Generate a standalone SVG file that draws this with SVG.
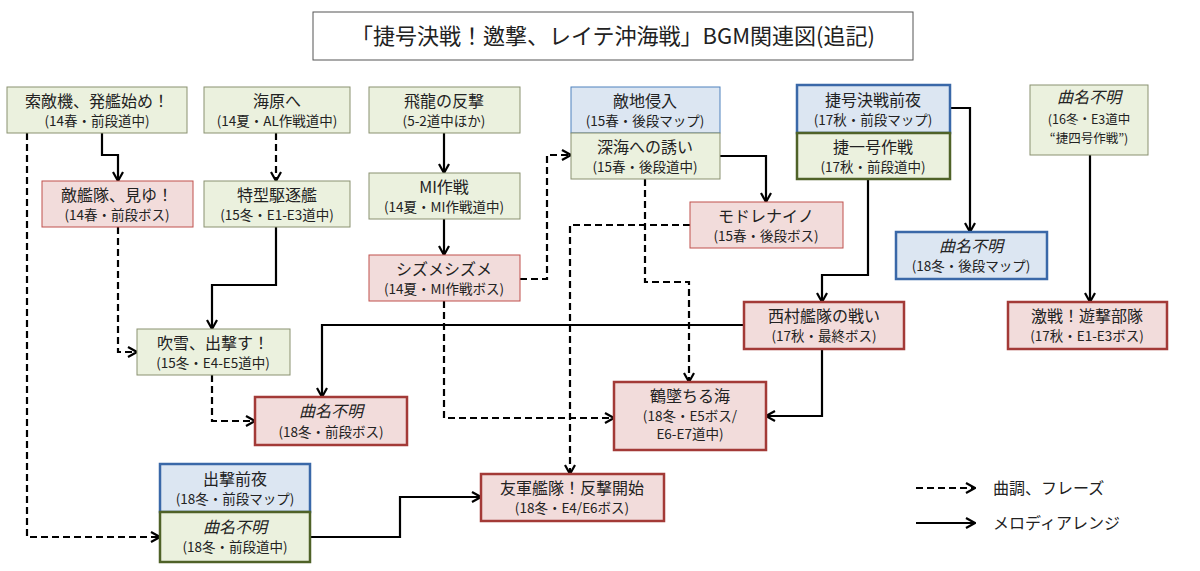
<svg xmlns="http://www.w3.org/2000/svg" width="1200" height="571" viewBox="0 0 1200 571">
<defs>
<marker id="ah" viewBox="0 0 12 12" refX="11" refY="6" markerWidth="12" markerHeight="12" markerUnits="userSpaceOnUse" orient="auto">
<polyline points="2,1 11,6 2,11" fill="none" stroke="#000" stroke-width="2.2"/>
</marker>
<style>
text{font-family:"Noto Sans CJK JP","Liberation Sans",sans-serif;fill:#222;text-anchor:middle}
.t{font-size:16px}.s{font-size:13.5px}.i{font-style:italic}.x{font-size:12.5px}
.g{fill:#ebf1de;stroke:#8a9170;stroke-width:1}
.p{fill:#f2dcdb;stroke:#c0504d;stroke-width:1}
.b{fill:#dce6f2;stroke:#4f81bd;stroke-width:1}
.P{fill:#f2dcdb;stroke:#a33a37;stroke-width:2.5}
.B{fill:#dce6f2;stroke:#3a68a8;stroke-width:2.5}
.G{fill:#ebf1de;stroke:#4f6228;stroke-width:2.5}
.c{fill:none;stroke:#000;stroke-width:2.2;marker-end:url(#ah)}
.d{stroke-dasharray:7,4}
</style>
</defs>
<rect width="1200" height="571" fill="#fff"/>
<g id="title"><rect x="313" y="12" width="600" height="48" fill="#fff" stroke="#555"/><text x="613" y="44" style="font-size:22px">「捷号決戦！邀撃、レイテ沖海戦」BGM関連図(追記)</text></g>
<g id="connectors">
<polyline class="c d" points="27,133 27,537 160,537"/>
<polyline class="c" points="102,133 102,155 118,155 118,181"/>
<polyline class="c d" points="118,227 118,352 137,352"/>
<polyline class="c d" points="276,133 276,181"/>
<polyline class="c" points="276,227 276,285 212,285 212,329"/>
<polyline class="c d" points="212,375 212,421 255,421"/>
<polyline class="c" points="444,133 444,173"/>
<polyline class="c" points="444,219 444,255"/>
<polyline class="c d" points="520,279 547,279 547,155 571,155"/>
<polyline class="c d" points="444,301 444,418 614,418"/>
<polyline class="c" points="720,156 766,156 766,202"/>
<polyline class="c d" points="645,179 645,282 689,282 689,382"/>
<polyline class="c d" points="690,225 570,225 570,474"/>
<polyline class="c" points="868,179 868,275 822,275 822,302"/>
<polyline class="c" points="950,108 970,108 970,232"/>
<polyline class="c" points="1090,155 1090,302"/>
<polyline class="c" points="744,325 322,325 322,397"/>
<polyline class="c" points="822,349 822,416 766,416"/>
<polyline class="c" points="310,537 400,537 400,497 481,497"/>
<polyline class="c d" points="916,488 975,488"/>
<polyline class="c" points="916,523 975,523"/>
</g>
<g id="n1"><rect class="g" x="7" y="87" width="180" height="46"/><text class="t" x="97" y="107">索敵機、発艦始め！</text><text class="s" x="97" y="126">(14春・前段道中)</text></g>
<g id="n2"><rect class="g" x="204" y="87" width="146" height="46"/><text class="t" x="277" y="107">海原へ</text><text class="s" x="277" y="126">(14夏・AL作戦道中)</text></g>
<g id="n3"><rect class="g" x="369" y="87" width="151" height="46"/><text class="t" x="444" y="107">飛龍の反撃</text><text class="s" x="444" y="126">(5-2道中ほか)</text></g>
<g id="n4"><rect class="p" x="42" y="181" width="151" height="46"/><text class="t" x="117" y="201">敵艦隊、見ゆ！</text><text class="s" x="117" y="220">(14春・前段ボス)</text></g>
<g id="n5"><rect class="g" x="204" y="181" width="146" height="46"/><text class="t" x="277" y="201">特型駆逐艦</text><text class="s" x="277" y="220">(15冬・E1-E3道中)</text></g>
<g id="n6"><rect class="g" x="369" y="173" width="151" height="46"/><text class="t" x="444" y="193">MI作戦</text><text class="s" x="444" y="212">(14夏・MI作戦道中)</text></g>
<g id="n7"><rect class="p" x="369" y="255" width="151" height="46"/><text class="t" x="444" y="275">シズメシズメ</text><text class="s" x="444" y="294">(14夏・MI作戦ボス)</text></g>
<g id="n8"><rect class="b" x="571" y="87" width="149" height="46"/><text class="t" x="645" y="107">敵地侵入</text><text class="s" x="645" y="126">(15春・後段マップ)</text></g>
<g id="n9"><rect class="g" x="571" y="133" width="149" height="46"/><text class="t" x="645" y="153">深海への誘い</text><text class="s" x="645" y="172">(15春・後段道中)</text></g>
<g id="n10"><rect class="p" x="690" y="202" width="153" height="46"/><text class="t" x="766" y="222">モドレナイノ</text><text class="s" x="766" y="241">(15春・後段ボス)</text></g>
<g id="n11"><rect class="B" x="797" y="85" width="153" height="48"/><text class="t" x="873" y="106">捷号決戦前夜</text><text class="s" x="873" y="125">(17秋・前段マップ)</text></g>
<g id="n12"><rect class="G" x="797" y="133" width="153" height="46"/><text class="t" x="873" y="153">捷一号作戦</text><text class="s" x="873" y="172">(17秋・前段道中)</text></g>
<g id="n13"><rect class="g" x="1030" y="85" width="118" height="70"/><text class="t i" x="1089" y="103">曲名不明</text><text class="x" x="1089" y="124">(16冬・E3道中</text><text class="x" x="1089" y="143">“捷四号作戦”)</text></g>
<g id="n14"><rect class="B" x="896" y="232" width="151" height="47"/><text class="t i" x="971" y="252">曲名不明</text><text class="s" x="971" y="271">(18冬・後段マップ)</text></g>
<g id="n15"><rect class="P" x="744" y="302" width="160" height="47"/><text class="t" x="824" y="322">西村艦隊の戦い</text><text class="s" x="824" y="341">(17秋・最終ボス)</text></g>
<g id="n16"><rect class="P" x="1008" y="302" width="159" height="47"/><text class="t" x="1087" y="322">激戦！遊撃部隊</text><text class="s" x="1087" y="341">(17秋・E1-E3ボス)</text></g>
<g id="n17"><rect class="g" x="137" y="329" width="153" height="46"/><text class="t" x="213" y="349">吹雪、出撃す！</text><text class="s" x="213" y="368">(15冬・E4-E5道中)</text></g>
<g id="n18"><rect class="P" x="255" y="397" width="152" height="48"/><text class="t i" x="331" y="417">曲名不明</text><text class="s" x="331" y="437">(18冬・前段ボス)</text></g>
<g id="n19"><rect class="P" x="614" y="382" width="152" height="68"/><text class="t" x="690" y="402">鶴墜ちる海</text><text class="s" x="690" y="421">(18冬・E5ボス/</text><text class="s" x="690" y="439">E6-E7道中)</text></g>
<g id="n20"><rect class="B" x="160" y="464" width="150" height="48"/><text class="t" x="235" y="485">出撃前夜</text><text class="s" x="235" y="504">(18冬・前段マップ)</text></g>
<g id="n21"><rect class="G" x="160" y="512" width="150" height="50"/><text class="t i" x="235" y="533">曲名不明</text><text class="s" x="235" y="552">(18冬・前段道中)</text></g>
<g id="n22"><rect class="P" x="481" y="474" width="183" height="47"/><text class="t" x="572" y="494">友軍艦隊！反撃開始</text><text class="s" x="572" y="513">(18冬・E4/E6ボス)</text></g>
<g id="legend"><text class="t" x="993" y="494" style="text-anchor:start">曲調、フレーズ</text><text class="t" x="993" y="529" style="text-anchor:start">メロディアレンジ</text></g>
</svg>
